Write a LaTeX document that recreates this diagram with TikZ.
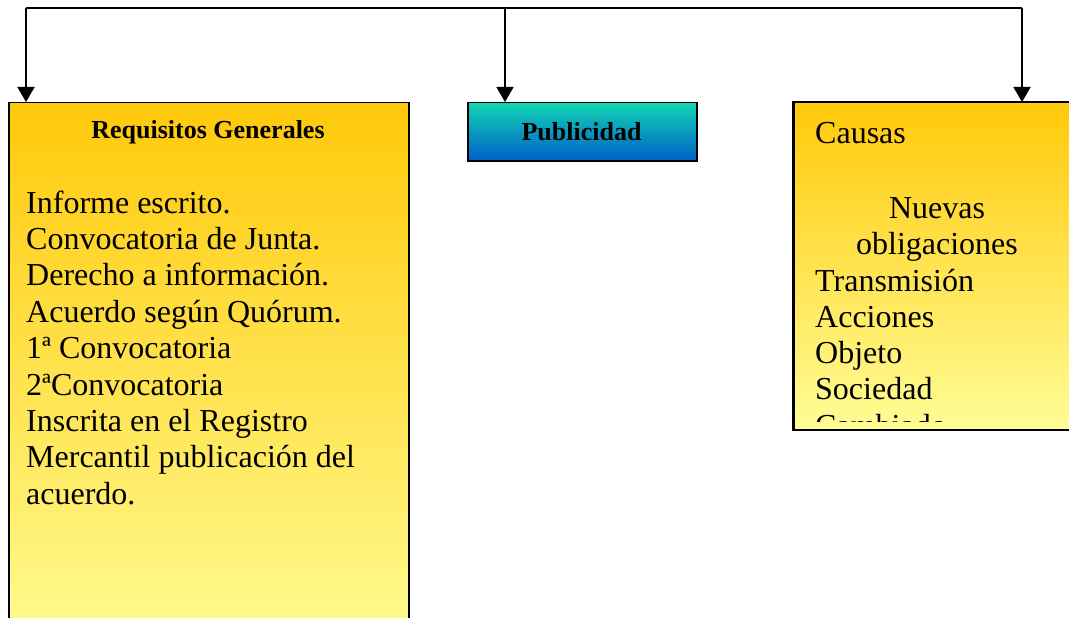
\documentclass[tikz,border=0pt]{standalone}
\usepackage{fontspec}
\setmainfont{Liberation Serif}
\usetikzlibrary{arrows.meta}
\definecolor{ytop}{RGB}{255,201,10}
\definecolor{ybot}{RGB}{255,253,150}
\definecolor{ctop}{RGB}{18,212,180}
\definecolor{cmid}{RGB}{34,208,226}
\definecolor{cbot}{RGB}{0,96,200}
\newcommand{\bodyfont}{\fontsize{32}{36}\selectfont}
\newcommand{\titlefont}{\fontsize{26}{30}\selectfont\bfseries}
\begin{document}
\begin{tikzpicture}[x=1pt,y=-1pt,
  conn/.style={line width=1.5pt},
  arr/.style={line width=1.5pt,-{Triangle[length=15pt,width=17pt]}},
  yellowbox/.style={draw=black,line width=1.5pt,top color=ytop,bottom color=ybot,inner sep=0,anchor=north west},
  bluebox/.style={draw=black,line width=1.5pt,top color=ctop,middle color=cmid,bottom color=cbot,inner sep=0,anchor=north west},
  bodytext/.style={font=\bodyfont,inner sep=0},
  titletext/.style={font=\titlefont,inner sep=0}]
\useasboundingbox (0,0) rectangle (1069,618);
% boxes
\node[yellowbox,minimum width=400pt,minimum height=560pt] (req) at (8,102) {};
\node[bluebox,minimum width=229pt,minimum height=58pt] (pub) at (467,102) {};
\node[yellowbox,minimum width=320pt,minimum height=327pt] (cau) at (793,102) {};
% connectors
\coordinate (t1) at (26,8);
\coordinate (t2) at (505,8);
\coordinate (t3) at (1022,8);
\draw[conn] (t1) -- (t3);
\draw[arr] (t1) -- (t1 |- req.north);
\draw[arr] (t2) -- (t2 |- pub.north);
\draw[arr] (t3) -- (t3 |- cau.north);
% left box text
\node[titletext,anchor=base] (reqtitle) at (208,139) {Requisitos Generales};
\foreach \t [count=\i] in {Informe escrito.,Convocatoria de Junta.,Derecho a información.,Acuerdo según Quórum.,1ª Convocatoria,2ªConvocatoria,Inscrita en el Registro,Mercantil publicación del,acuerdo.}{
  \node[bodytext,anchor=base west] (r\i) at (26,{213+36.4*(\i-1)}) {\t};
}
% middle box text
\node[titletext,anchor=base] (pubtitle) at (581.5,140) {Publicidad};
% right box text (clipped)
\begin{scope}
\clip (793,102) rectangle (1100,421);
\node[bodytext,anchor=base west] (c0) at (815,143) {Causas};
\node[bodytext,anchor=base] (c1) at (937,218) {Nuevas};
\node[bodytext,anchor=base] (c2) at (937,254.5) {obligaciones};
\foreach \t [count=\i] in {Transmisión,Acciones,Objeto,Sociedad,Cambiado}{
  \node[bodytext,anchor=base west] (cl\i) at (815,{291+36.3*(\i-1)}) {\t};
}
\end{scope}
\draw[line width=1.5pt] (cau.north west) rectangle (cau.south east);
\end{tikzpicture}
\end{document}
